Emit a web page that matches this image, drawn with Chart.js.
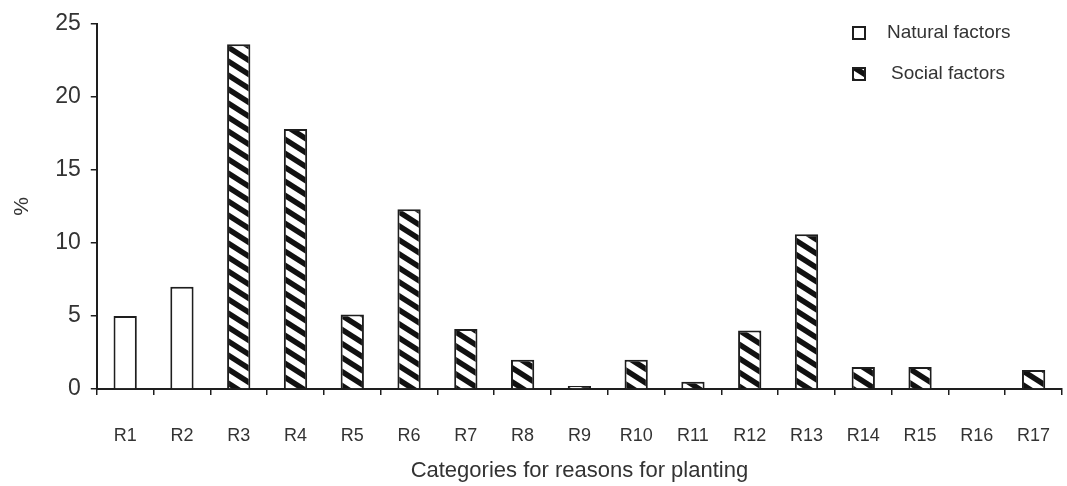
<!DOCTYPE html>
<html>
<head>
<meta charset="utf-8">
<script src="https://cdn.jsdelivr.net/npm/chart.js@4.4.1/dist/chart.umd.min.js"></script>
<style>
  body { margin: 0; background: #fff; }
  #wrap { width: 1067px; height: 486px; }
</style>
</head>
<body>
<div id="wrap"><canvas id="chart"></canvas></div>
<script>
var categories = ["R1", "R2", "R3", "R4", "R5", "R6", "R7", "R8", "R9", "R10", "R11", "R12", "R13", "R14", "R15", "R16", "R17"];
var naturalFactors = [5.0, 7.0, null, null, null, null, null, null, null, null, null, null, null, null, null, null, null];
var socialFactors = [null, null, 23.6, 17.8, 5.1, 12.3, 4.1, 2.0, 0.2, 2.0, 0.5, 4.0, 10.6, 1.5, 1.5, 0, 1.3];
var yTicks = [0, 5, 10, 15, 20, 25];

var FONT = "'Liberation Sans', Arial, sans-serif";
var INK = "#1e1e1e";

// diagonal hatch "\" used for the social factors bars
function makeHatch() {
  var w = 22, h = 14;
  var c = document.createElement("canvas");
  c.width = w; c.height = h;
  var g = c.getContext("2d");
  g.fillStyle = "#fff";
  g.fillRect(0, 0, w, h);
  g.strokeStyle = "#111";
  g.lineWidth = 5.5;
  [-w, 0, w].forEach(function (o) {
    g.beginPath();
    g.moveTo(o - w, -h);   // run the line past the tile so the stripes join up
    g.lineTo(o + 2 * w, 2 * h);
    g.stroke();
  });
  return g.createPattern(c, "repeat");
}
var hatch = makeHatch();

// legend drawn inside the plot, top right, stacked
var cornerLegend = {
  id: "cornerLegend",
  afterDraw: function (chart) {
    var ctx = chart.ctx;
    var x = chart.chartArea.right - 209;
    var rows = [33, 74];
    chart.data.datasets.forEach(function (ds, i) {
      var y = rows[i];
      ctx.save();
      ctx.fillStyle = ds.backgroundColor;
      ctx.fillRect(x, y - 6, 12, 12);
      ctx.strokeStyle = INK;
      ctx.lineWidth = 2;
      ctx.strokeRect(x, y - 6, 12, 12);
      ctx.fillStyle = "#333";
      ctx.font = "19px " + FONT;
      ctx.textBaseline = "middle";
      ctx.fillText(ds.label, x + 34 + i * 4, y);
      ctx.restore();
    });
  }
};

var ctx = document.getElementById("chart").getContext("2d");

var myChart = new Chart(ctx, {
  type: "bar",
  data: {
    labels: categories,
    datasets: [
      {
        label: "Natural factors",
        data: naturalFactors,
        backgroundColor: "#ffffff",
        borderColor: INK,
        borderWidth: 2,
        barPercentage: 0.41,
        categoryPercentage: 1.0
      },
      {
        label: "Social factors",
        data: socialFactors,
        backgroundColor: hatch,
        borderColor: INK,
        borderWidth: 2,
        barPercentage: 0.41,
        categoryPercentage: 1.0
      }
    ]
  },
  options: {
    responsive: true,
    maintainAspectRatio: false,
    animation: false,
    grouped: false,
    layout: {
      padding: { top: 10, right: 5, left: 10, bottom: 2 }
    },
    plugins: {
      legend: { display: false },
      tooltip: { enabled: false }
    },
    scales: {
      x: {
        afterFit: function (scale) {
          // the big label gap should not eat horizontal room
          scale.paddingLeft = 0;
          scale.paddingRight = 0;
        },
        grid: {
          display: true,
          drawOnChartArea: false,
          drawTicks: true,
          tickLength: 6,
          color: INK,
          lineWidth: 1.5
        },
        border: { display: true, color: INK, width: 2 },
        ticks: {
          color: "#333",
          padding: 30,
          maxRotation: 0,
          autoSkip: false,
          font: { family: FONT, size: 18 }
        },
        title: {
          display: true,
          text: "Categories for reasons for planting",
          color: "#333",
          font: { family: FONT, size: 22 },
          padding: { top: -19, bottom: 0 }
        }
      },
      y: {
        min: 0,
        max: 25,
        afterBuildTicks: function (axis) {
          axis.ticks = yTicks.map(function (v) { return { value: v }; });
        },
        grid: {
          display: true,
          drawOnChartArea: false,
          drawTicks: true,
          tickLength: 6,
          color: INK,
          lineWidth: 1.5
        },
        border: { display: true, color: INK, width: 2 },
        ticks: {
          color: "#333",
          padding: 10,
          font: { family: FONT, size: 23 }
        },
        title: {
          display: true,
          text: "%",
          color: "#333",
          font: { family: FONT, size: 21 },
          padding: { top: 0, bottom: 10 }
        }
      }
    }
  },
  plugins: [cornerLegend]
});
</script>
</body>
</html>
